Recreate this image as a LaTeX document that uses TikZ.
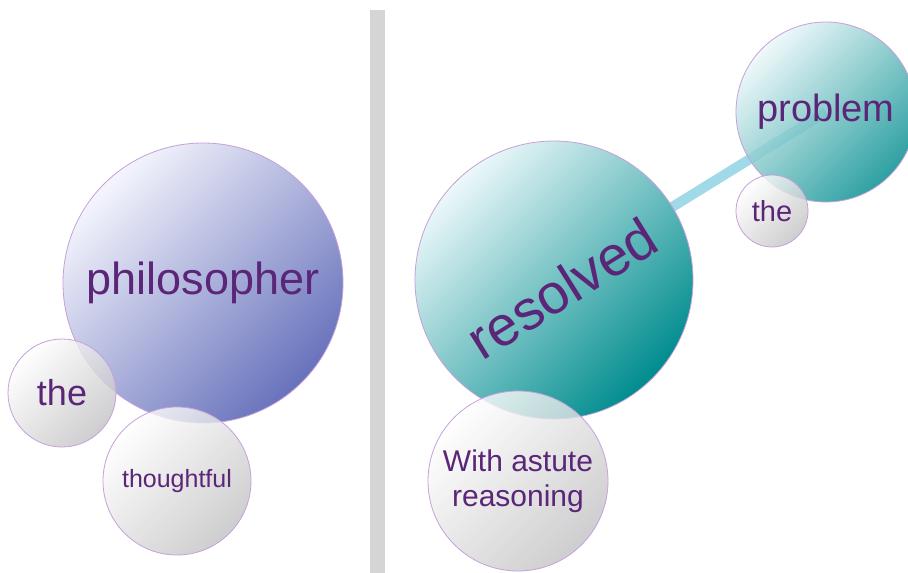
\documentclass[tikz,border=0pt]{standalone}
\usepackage{fontspec}
\setmainfont{Liberation Sans}
\usetikzlibrary{backgrounds}
\definecolor{txt}{RGB}{92,38,120}
\definecolor{edge}{RGB}{198,160,218}
\definecolor{lilacL}{RGB}{244,245,252}
\definecolor{lilacD}{RGB}{104,114,188}
\definecolor{tealL}{RGB}{236,248,250}
\definecolor{tealD}{RGB}{0,140,142}
\definecolor{grayL}{RGB}{255,255,255}
\definecolor{grayD}{RGB}{194,194,196}
\definecolor{link}{RGB}{160,218,232}
\definecolor{divider}{RGB}{213,213,213}
\tikzset{
  bubble/.style={circle, draw=edge, line width=0.8pt, inner sep=0pt, text=txt, align=center},
  lilac/.style={bubble, top color=lilacL, bottom color=lilacD, shading angle=45},
  teal/.style={bubble, top color=tealL, bottom color=tealD, shading angle=45},
  pale/.style={bubble, top color=grayL, bottom color=grayD, shading angle=45, fill opacity=0.8, text opacity=1},
  linkline/.style={draw=link, line width=10pt},
  word/.style={text=txt, inner sep=0pt}
}
\begin{document}
\begin{tikzpicture}[x=1pt,y=-1pt]
\useasboundingbox (0,0) rectangle (908,573);
\clip (0,0) rectangle (908,573);
\fill[divider] (370,10) rectangle (385,573);
% left group
\node[lilac, minimum size=280, font=\fontsize{45}{54}\selectfont] (phil) at (203,283) {philosopher};
\node[pale, minimum size=108, font=\fontsize{36}{43}\selectfont] (the1) at (62,393) {the};
\node[pale, minimum size=148, font=\fontsize{25}{30}\selectfont] (thou) at (177,481) {thoughtful};
% right group
\node[teal, minimum size=180, fill opacity=0.82, text opacity=1, font=\fontsize{38}{46}\selectfont] (prob) at (826,112) {problem};
\node[teal, minimum size=278] (res) at (554,280) {};
\node[word, rotate=32, font=\fontsize{56}{67}\selectfont] (restext) at (562,288) {resolved};
\node[pale, minimum size=72, font=\fontsize{29}{35}\selectfont] (the2) at (772,211) {the};
\node[pale, minimum size=180, font=\fontsize{30}{35}\selectfont] (astute) at (518,481) {With astute\\reasoning};
\begin{scope}[on background layer]
\fill[white] (0,0) rectangle (908,573);
\draw[linkline] (res.center) -- (prob.center);
\end{scope}
\end{tikzpicture}
\end{document}
